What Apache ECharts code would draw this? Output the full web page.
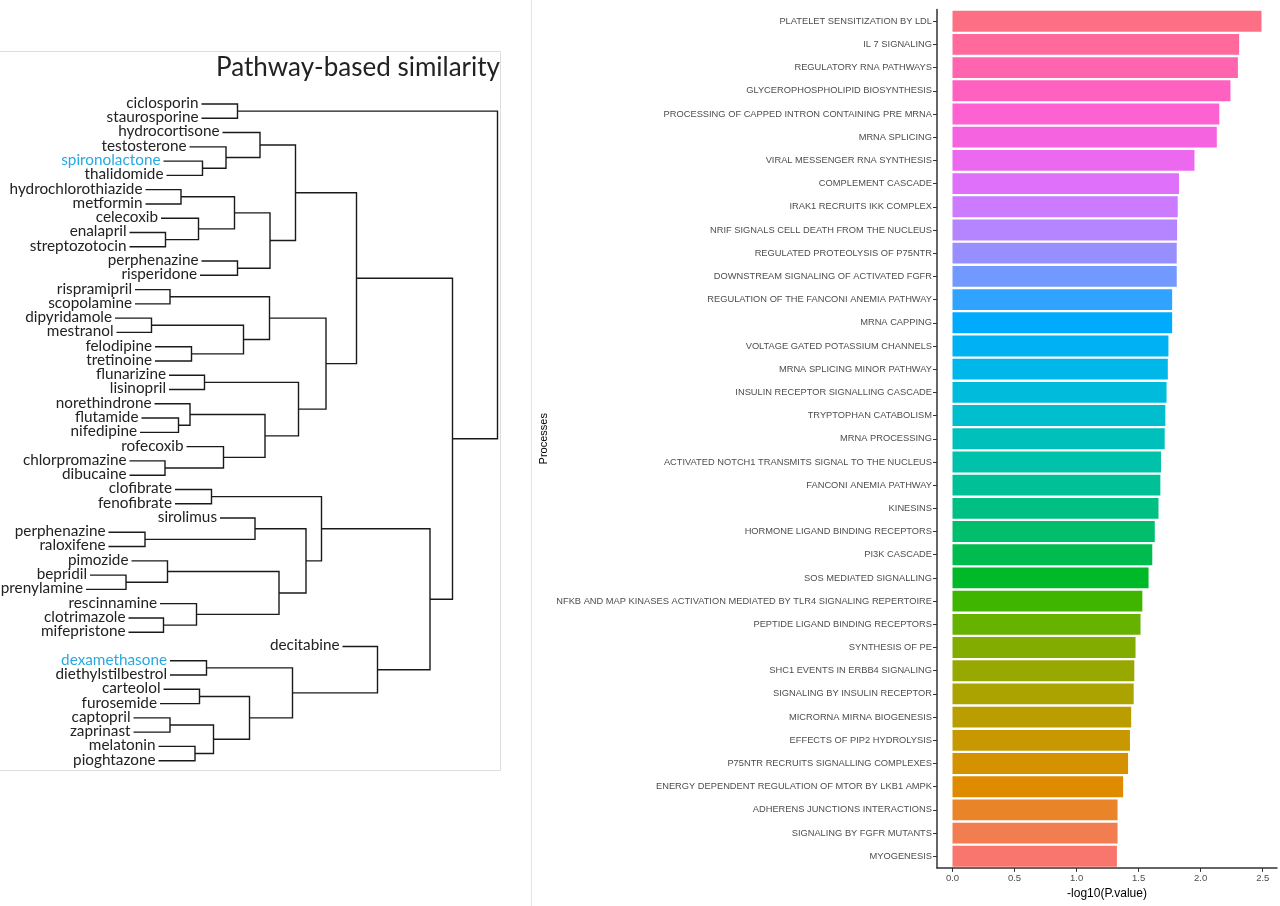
<!DOCTYPE html>
<html><head><meta charset="utf-8">
<script src="https://cdn.jsdelivr.net/npm/echarts@6/dist/echarts.min.js"></script>
<style>html,body{margin:0;padding:0;background:#fff}#c{width:1280px;height:906px}</style>
</head><body><div id="c"></div>
<script>
// ---------------- Dendrogram data ----------------
const drugs = ['ciclosporin','staurosporine','hydrocortisone','testosterone','spironolactone','thalidomide',
  'hydrochlorothiazide','metformin','celecoxib','enalapril','streptozotocin','perphenazine','risperidone',
  'rispramipril','scopolamine','dipyridamole','mestranol','felodipine','tretinoine','flunarizine','lisinopril',
  'norethindrone','flutamide','nifedipine','rofecoxib','chlorpromazine','dibucaine','clofibrate','fenofibrate',
  'sirolimus','perphenazine','raloxifene','pimozide','bepridil','prenylamine','rescinnamine','clotrimazole',
  'mifepristone','decitabine','dexamethasone','diethylstilbestrol','carteolol','furosemide','captopril',
  'zaprinast','melatonin','pioghtazone'];
// height at which each leaf branch begins (distance units)
const leafStart = [40.3,40.3,44.5,37.9,32.7,33.3,29.1,29.1,32.2,25.9,25.9,40.3,40,
  27,27,23,23.3,31,31,33.8,33.8,30.9,28.3,28,37.3,25.9,25.9,35,35,
  44,21.7,21.7,26.3,18,17.2,32,25.7,25.7,68.5,34,34,32.7,32,26.7,26.7,31.7,31.7];
const highlighted = ['spironolactone','dexamethasone'];
// hclust-style merges: negative = leaf (1-based), positive = earlier merge (1-based); third = height
const merges = [
  [-1,-2,47.5],[-5,-6,40.5],[-4,2,45.2],[-3,3,52],[-7,-8,36.2],[-10,-11,33.1],[-9,6,39.7],[5,7,46.9],
  [-12,-13,47.5],[8,9,54],[4,10,59.1],[-14,-15,34],[-16,-17,30.3],[-18,-19,38.3],[13,14,48.7],[12,15,53.9],
  [-20,-21,40.9],[-23,-24,35.7],[-22,18,38],[-26,-27,33],[-25,20,44.7],[19,21,53],[17,22,59.7],[16,23,65.2],
  [11,24,71.3],[-28,-29,42.3],[-31,-32,29],[-30,27,51],[-34,-35,25.2],[-33,29,33.5],[-37,-38,32.7],[-36,31,39.3],
  [30,32,55.8],[28,33,61.2],[26,34,64.3],[-40,-41,41.3],[-42,-43,39.9],[-44,-45,34],[-46,-47,39],[38,39,42.7],
  [37,40,49.9],[36,41,58.5],[-39,42,75.5],[35,43,86],[25,44,90.5],[1,45,99.5]
];

// ---------------- Bar chart data ----------------
const processes = ['PLATELET SENSITIZATION BY LDL','IL 7 SIGNALING','REGULATORY RNA PATHWAYS',
  'GLYCEROPHOSPHOLIPID BIOSYNTHESIS','PROCESSING OF CAPPED INTRON CONTAINING PRE MRNA','MRNA SPLICING',
  'VIRAL MESSENGER RNA SYNTHESIS','COMPLEMENT CASCADE','IRAK1 RECRUITS IKK COMPLEX',
  'NRIF SIGNALS CELL DEATH FROM THE NUCLEUS','REGULATED PROTEOLYSIS OF P75NTR','DOWNSTREAM SIGNALING OF ACTIVATED FGFR',
  'REGULATION OF THE FANCONI ANEMIA PATHWAY','MRNA CAPPING','VOLTAGE GATED POTASSIUM CHANNELS',
  'MRNA SPLICING MINOR PATHWAY','INSULIN RECEPTOR SIGNALLING CASCADE','TRYPTOPHAN CATABOLISM','MRNA PROCESSING',
  'ACTIVATED NOTCH1 TRANSMITS SIGNAL TO THE NUCLEUS','FANCONI ANEMIA PATHWAY','KINESINS',
  'HORMONE LIGAND BINDING RECEPTORS','PI3K CASCADE','SOS MEDIATED SIGNALLING',
  'NFKB AND MAP KINASES ACTIVATION MEDIATED BY TLR4 SIGNALING REPERTOIRE','PEPTIDE LIGAND BINDING RECEPTORS',
  'SYNTHESIS OF PE','SHC1 EVENTS IN ERBB4 SIGNALING','SIGNALING BY INSULIN RECEPTOR','MICRORNA MIRNA BIOGENESIS',
  'EFFECTS OF PIP2 HYDROLYSIS','P75NTR RECRUITS SIGNALLING COMPLEXES','ENERGY DEPENDENT REGULATION OF MTOR BY LKB1 AMPK',
  'ADHERENS JUNCTIONS INTERACTIONS','SIGNALING BY FGFR MUTANTS','MYOGENESIS'];
const pvals = [2.49,2.31,2.30,2.24,2.15,2.13,1.95,1.825,1.815,1.81,1.807,1.807,1.77,1.77,1.74,1.735,1.725,
  1.715,1.71,1.68,1.675,1.66,1.63,1.61,1.58,1.53,1.515,1.475,1.465,1.46,1.44,1.43,1.415,1.375,1.33,1.33,1.325];
const xTicks = [0,0.5,1,1.5,2,2.5];

// ---------------- helpers ----------------
function hcl(h, c, l) {
  const r = Math.PI / 180, U = c * Math.cos(h * r), V = c * Math.sin(h * r);
  const Xn = 95.047, Yn = 100, Zn = 108.883;
  const den = Xn + 15 * Yn + 3 * Zn, un = 4 * Xn / den, vn = 9 * Yn / den;
  const Y = Yn * (l > 8 ? Math.pow((l + 16) / 116, 3) : l / 903.3);
  const u = U / (13 * l) + un, v = V / (13 * l) + vn;
  const X = 9 * Y * u / (4 * v), Z = Y * (12 - 3 * u - 20 * v) / (4 * v);
  const x = X / 100, y = Y / 100, z = Z / 100;
  const lin = [3.240479 * x - 1.537150 * y - 0.498535 * z,
    -0.969256 * x + 1.875992 * y + 0.041556 * z,
    0.055648 * x - 0.204043 * y + 1.057311 * z];
  return '#' + lin.map(t => {
    t = t <= 0.0031308 ? 12.92 * t : 1.055 * Math.pow(t, 1 / 2.4) - 0.055;
    t = Math.round(Math.min(1, Math.max(0, t)) * 255);
    return t.toString(16).padStart(2, '0');
  }).join('');
}
const n = processes.length;
const barColors = processes.map((p, i) => hcl(15 + (n - 1 - i) * 360 / n, 100, 65));

// tree layout from merges
const nodes = [], segs = [];
function pos(ref) { return ref < 0 ? { h: leafStart[-ref - 1], y: -ref - 1 } : nodes[ref - 1]; }
merges.forEach(([a, b, h]) => {
  const A = pos(a), B = pos(b);
  nodes.push({ h: h, y: (A.y + B.y) / 2 });
  segs.push([A.h, A.y, h, B.y, B.h]);
});
const leafData = drugs.map((d, i) => [leafStart[i], i, d]);

const chart = echarts.init(document.getElementById('c'));
chart.setOption({
  animation: false,
  backgroundColor: '#fff',
  title: {
    text: 'Pathway-based similarity', right: 780, top: 55, padding: 0,
    textStyle: { fontSize: 26, fontWeight: 'normal', fontFamily: 'Lato', color: '#222' }
  },
  graphic: [
    { type: 'rect', silent: true, shape: { x: -1, y: 51.5, width: 501.5, height: 719 },
      style: { fill: null, stroke: '#dedede', lineWidth: 1 } },
    { type: 'line', silent: true, shape: { x1: 531.5, y1: 0, x2: 531.5, y2: 906 },
      style: { stroke: '#e4e4e4', lineWidth: 1 } }
  ],
  grid: [
    { left: 0, width: 500, top: 104, bottom: 145.3 },
    { left: 937, right: 3, top: 9.6, bottom: 38.1 }
  ],
  xAxis: [
    { gridIndex: 0, type: 'value', min: 0, max: 100, show: false },
    { gridIndex: 1, type: 'value', min: -0.125, max: 2.615,
      name: '-log10(P.value)', nameLocation: 'middle', nameGap: 16,
      nameTextStyle: { fontSize: 12, color: '#000', fontFamily: 'Liberation Sans' },
      splitLine: { show: false },
      axisLine: { show: true, onZero: false, lineStyle: { color: '#333', width: 1.5 } },
      axisTick: { show: true, length: 4, customValues: xTicks, lineStyle: { color: '#333', width: 1 } },
      axisLabel: { customValues: xTicks, formatter: v => Number(v).toFixed(1), margin: 5,
        fontSize: 9.5, color: '#4d4d4d', fontFamily: 'Liberation Sans' } }
  ],
  yAxis: [
    { gridIndex: 0, type: 'value', min: 0, max: 46, inverse: true, show: false },
    { gridIndex: 1, type: 'category', data: processes, inverse: true,
      name: 'Processes', nameLocation: 'middle', nameGap: 388, nameRotate: 90,
      nameTextStyle: { fontSize: 11, color: '#000', fontFamily: 'Liberation Sans' },
      axisLine: { show: true, onZero: false, lineStyle: { color: '#333', width: 1.5 } },
      axisTick: { show: true, length: 4, alignWithLabel: true, lineStyle: { color: '#333', width: 1 } },
      axisLabel: { margin: 5, fontSize: 9.3, color: '#4d4d4d', fontFamily: 'Liberation Sans' } }
  ],
  series: [
    {
      type: 'custom', xAxisIndex: 0, yAxisIndex: 0, silent: true,
      data: segs,
      renderItem: (params, api) => {
        const a = api.coord([api.value(0), api.value(1)]);
        const b = api.coord([api.value(2), api.value(1)]);
        const c = api.coord([api.value(2), api.value(3)]);
        const d = api.coord([api.value(4), api.value(3)]);
        return { type: 'polyline', shape: { points: [a, b, c, d] },
          style: { stroke: '#1a1a1a', lineWidth: 1.4, fill: null } };
      }
    },
    {
      type: 'custom', xAxisIndex: 0, yAxisIndex: 0, silent: true,
      data: leafData,
      renderItem: (params, api) => {
        const p = api.coord([api.value(0), api.value(1)]);
        const name = drugs[params.dataIndex];
        return { type: 'text',
          style: { text: name, x: p[0] - 3, y: p[1] - 1, align: 'right', verticalAlign: 'middle',
            fontSize: 15.3, fontFamily: 'Lato',
            fill: highlighted.includes(name) ? '#27a9e1' : '#222' } };
      }
    },
    {
      type: 'bar', xAxisIndex: 1, yAxisIndex: 1, barWidth: '90%',
      data: pvals.map((v, i) => ({ value: v, itemStyle: { color: barColors[i] } }))
    }
  ]
});
</script></body></html>
